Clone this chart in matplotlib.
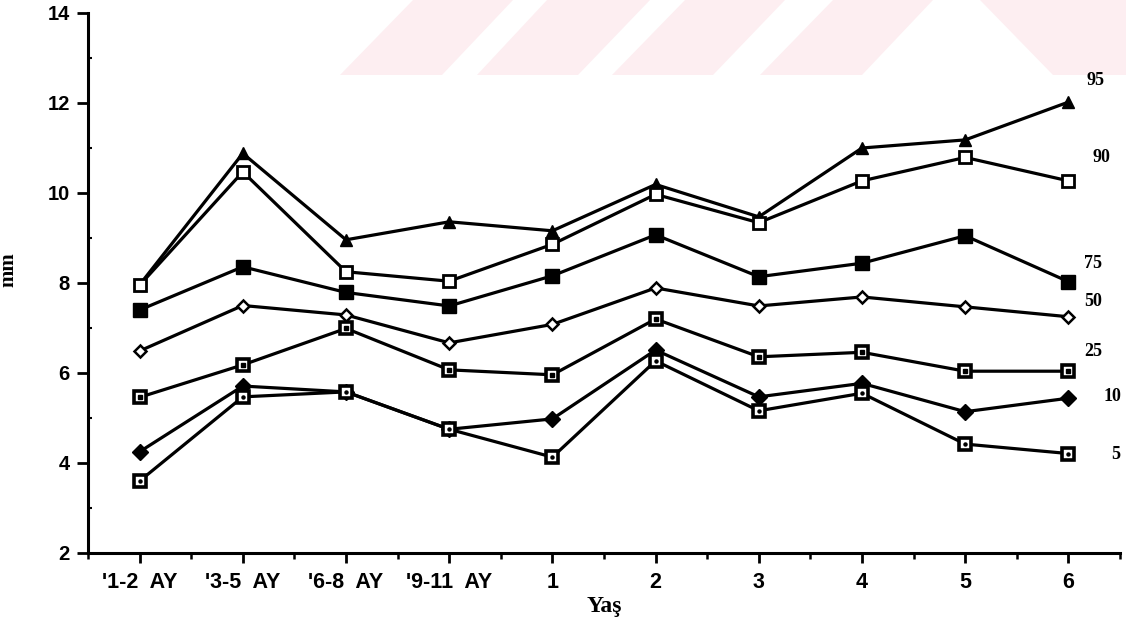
import matplotlib
matplotlib.use("Agg")
import matplotlib.pyplot as plt
from matplotlib.patches import Polygon

# age groups on the x axis
yas = ["'1-2  AY", "'3-5  AY", "'6-8  AY", "'9-11  AY", "1", "2", "3", "4", "5", "6"]

# percentile curves (mm)
p95 = [7.96, 10.88, 8.96, 9.36, 9.16, 10.19, 9.47, 11.0, 11.18, 12.02]
p90 = [7.95, 10.47, 8.25, 8.04, 8.86, 9.97, 9.34, 10.27, 10.79, 10.27]
p75 = [7.40, 8.36, 7.79, 7.49, 8.16, 9.07, 8.14, 8.44, 9.05, 8.03]
p50 = [6.49, 7.50, 7.29, 6.67, 7.08, 7.89, 7.49, 7.69, 7.47, 7.25]
p25 = [5.46, 6.18, 6.99, 6.07, 5.96, 7.20, 6.36, 6.46, 6.04, 6.04]
p10 = [4.25, 5.71, 5.58, 4.75, 4.98, 6.51, 5.47, 5.77, 5.14, 5.44]
p5 = [3.60, 5.47, 5.58, 4.75, 4.13, 6.27, 5.16, 5.55, 4.42, 4.21]

etiketler = ["95", "90", "75", "50", "25", "10", "5"]

fig = plt.figure(figsize=(11.26, 6.28), dpi=100)

# faint pink watermark band at the top (pixel coords of the picture)
W, H = 1126, 628
pembe = "#fdeef1"
seritler = [
    [(340, 75), (442, 75), (513, 0), (413, 0)],
    [(477, 75), (578, 75), (650, 0), (547, 0)],
    [(612, 75), (713, 75), (785, 0), (685, 0)],
    [(760, 75), (862, 75), (933, 0), (833, 0)],
    [(980, 0), (1126, 0), (1126, 75), (1053, 75)],
]
for s in seritler:
    pts = [(x / W, 1 - y / H) for x, y in s]
    fig.add_artist(Polygon(pts, closed=True, transform=fig.transFigure,
                           facecolor=pembe, edgecolor="none", zorder=0))

ax = fig.add_axes([88 / W, 1 - 553 / H, (1120 - 88) / W, (553 - 13) / H])
ax.patch.set_alpha(0)

x = list(range(len(yas)))
lw = 2.3
ax.plot(x, p95, color="black", lw=lw, marker="^", ms=9, mfc="black", mec="black", zorder=3)
ax.plot(x, p90, color="black", lw=lw, marker="s", ms=9, mfc="white", mec="black", mew=2, zorder=3)
ax.plot(x, p75, color="black", lw=lw, marker="s", ms=9.5, mfc="black", mec="black", zorder=3)
ax.plot(x, p50, color="black", lw=lw, marker="D", ms=6.5, mfc="white", mec="black", mew=1.8, zorder=3)
ax.plot(x, p25, color="black", lw=lw, marker="s", ms=9, mfc="white", mec="black", mew=2.6, zorder=3)
ax.plot(x, p25, ls="none", marker="s", ms=2.2, mfc="black", mec="black", zorder=4)
ax.plot(x, p10, color="black", lw=lw, marker="D", ms=8, mfc="black", mec="black", zorder=3)
ax.plot(x, p5, color="black", lw=lw, marker="s", ms=9, mfc="white", mec="black", mew=2.6, zorder=3)
ax.plot(x, p5, ls="none", marker="o", ms=2.2, mfc="black", mec="black", zorder=4)

# percentile labels at the right end
lab_x = [9.26, 9.32, 9.24, 9.24, 9.24, 9.43, 9.46]
lab_y = [12.51, 10.78, 8.44, 7.58, 6.47, 5.47, 4.18]
for t, lx, ly in zip(etiketler, lab_x, lab_y):
    ax.text(lx, ly, t, ha="center", va="center", fontsize=13, fontweight="bold",
            family="Liberation Serif", clip_on=False)

ax.set_xlim(-0.5, 9.5)
ax.set_ylim(2, 14)
ax.set_xticks(x)
ax.set_xticklabels(yas)
ax.set_xticks([i + 0.5 for i in range(-1, 10)], minor=True)
ax.set_yticks([2, 4, 6, 8, 10, 12, 14])
ax.set_yticks([3, 5, 7, 9, 11, 13], minor=True)

for sp in ["top", "right"]:
    ax.spines[sp].set_visible(False)
for sp in ["left", "bottom"]:
    ax.spines[sp].set_linewidth(2.2)

ax.tick_params(axis="y", which="major", length=8, width=2, pad=5, direction="out")
ax.tick_params(axis="y", which="minor", length=3, width=1.5, direction="in")
ax.tick_params(axis="x", which="major", length=7, width=2, pad=7, direction="out")
ax.tick_params(axis="x", which="minor", length=4, width=1.8, direction="out")
for lbl in ax.get_xticklabels():
    lbl.set_fontweight("bold")
    lbl.set_fontsize(15.5)
    lbl.set_family("Liberation Sans")
for lbl in ax.get_yticklabels():
    lbl.set_fontweight("bold")
    lbl.set_fontsize(14.5)
    lbl.set_family("Liberation Sans")

ax.set_ylabel("mm", fontsize=15, fontweight="bold", family="Liberation Serif")
ax.yaxis.set_label_coords((18 - 88) / (1120 - 88), (553 - 270) / (553 - 13))
ax.set_xlabel("Yaş", fontsize=17, fontweight="bold", family="Liberation Serif")
ax.xaxis.set_label_coords((604 - 88) / (1120 - 88), -(596 - 553) / (553 - 13))

fig.savefig("out.png", dpi=100)
